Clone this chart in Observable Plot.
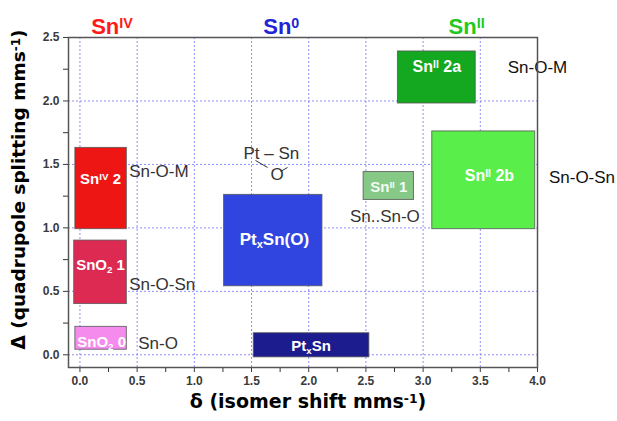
<!DOCTYPE html>
<html><head><meta charset="utf-8">
<script src="https://cdn.jsdelivr.net/npm/d3@7"></script>
<script src="https://cdn.jsdelivr.net/npm/@observablehq/plot@0.6"></script>
<style>
body{margin:0;background:#fff;}
#chart svg{font-family:"Liberation Sans",Arial,sans-serif;overflow:visible;}
</style>
</head><body><div id="chart"></div>
<script>
// ---- data ----
const boxLabels = ["Sn^{IV} 2","SnO_{2} 1","SnO_{2} 0","Pt_{x}Sn(O)","Pt_{x}Sn","Sn^{II} 1","Sn^{II} 2a","Sn^{II} 2b"];
const deltaMin  = [-0.04, -0.05, -0.04, 1.26, 1.52, 2.48, 2.78, 3.08];
const deltaMax  = [ 0.41,  0.41,  0.41, 2.12, 2.53, 2.92, 3.46, 3.98];
const splitMin  = [ 0.99,  0.40,  0.04, 0.54, -0.02, 1.22, 1.98, 0.99];
const splitMax  = [ 1.63,  0.90,  0.22, 1.26, 0.17, 1.44, 2.39, 1.76];
const labelDelta = [0.18, 0.18, 0.19, 1.70, 2.02, 2.70, 3.12, 3.58];
const labelSplit = [1.38, 0.71, 0.10, 0.91, 0.07, 1.32, 2.27, 1.41];

const noteText  = ["Sn-O-M", "Sn-O-Sn", "Sn-O", "Pt – Sn", "O", "Sn..Sn-O"];
const noteDelta = [0.43, 0.43, 0.51, 1.43, 1.665, 2.36];
const noteSplit = [1.44, 0.55, 0.09, 1.586, 1.42, 1.09];

const outerText  = ["Sn-O-M", "Sn-O-Sn"];
const outerDelta = [3.74, 4.10];
const outerSplit = [2.26, 1.40];

const bondDelta1 = [1.535, 1.754];
const bondSplit1 = [1.531, 1.444];
const bondDelta2 = [1.64, 1.815];
const bondSplit2 = [1.476, 1.476];

const stateText  = ["Sn^{IV}", "Sn^{0}", "Sn^{II}"];
const stateDelta = [0.28, 1.76, 3.38];
const stateSplit = [2.585, 2.585, 2.585];

const xTicks = [0, 0.5, 1, 1.5, 2, 2.5, 3, 3.5, 4];
const yTicks = [0, 0.5, 1, 1.5, 2, 2.5];
const xMinor = [0.25, 0.75, 1.25, 1.75, 2.25, 2.75, 3.25, 3.75];
const yMinor = [0.25, 0.75, 1.25, 1.75, 2.25];

const xLabel = "δ (isomer shift mms^{-1})";
const yLabel = "Δ (quadrupole splitting mms^{-1})";

// ---- tables ----
const boxes = boxLabels.map((label, i) => ({label, x1: deltaMin[i], x2: deltaMax[i], y1: splitMin[i], y2: splitMax[i], lx: labelDelta[i], ly: labelSplit[i]}));
const notes = noteText.map((t, i) => ({t, x: noteDelta[i], y: noteSplit[i]}));
const outer = outerText.map((t, i) => ({t, x: outerDelta[i], y: outerSplit[i]}));
const bonds = bondDelta1.map((d, i) => ({x1: d, y1: bondSplit1[i], x2: bondDelta2[i], y2: bondSplit2[i]}));
const states = stateText.map((t, i) => ({t, x: stateDelta[i], y: stateSplit[i]}));

const boxColors = ["#ee1515", "#dc2a52", "#f58ced", "#3045df", "#1c1c8e", "#86c986", "#13a81f", "#5aee4a"];
const stateColors = ["#ff1a1a", "#2323d8", "#22c922"];
const boxLabelSize = [15, 15, 15, 17, 15, 15, 16, 16];
const labelFont = "DejaVu Sans, Verdana, sans-serif";

const fmt = d3.format(".1f");

const chart = Plot.plot({
  width: 617,
  height: 421,
  marginLeft: 68,
  marginRight: 80,
  marginTop: 37,
  marginBottom: 54,
  x: {domain: [-0.1, 4.0]},
  y: {domain: [-0.1, 2.5]},
  color: {domain: boxLabels, range: boxColors},
  marks: [
    Plot.gridX(xTicks, {stroke: "#6a6af5", strokeOpacity: 0.75, strokeDasharray: "2,2", strokeWidth: 1}),
    Plot.gridY(yTicks, {stroke: "#6a6af5", strokeOpacity: 0.75, strokeDasharray: "2,2", strokeWidth: 1}),
    Plot.rect(boxes, {x1: "x1", x2: "x2", y1: "y1", y2: "y2", fill: "label", stroke: "#555", strokeWidth: 1, strokeOpacity: 0.8}),
    ...boxes.map((b, i) => Plot.text([b], {x: "lx", y: "ly", text: "label", fill: i === 5 ? "#f4fbf4" : "#fff", fontWeight: "bold", fontSize: boxLabelSize[i]})),
    Plot.text(notes, {x: "x", y: "y", text: "t", textAnchor: "start", fill: "#333", fontSize: 17}),
    Plot.text(outer, {x: "x", y: "y", text: "t", textAnchor: "start", fill: "#111", fontSize: 17}),
    Plot.link(bonds, {x1: "x1", y1: "y1", x2: "x2", y2: "y2", stroke: "#333", strokeWidth: 1}),
    Plot.text(states, {x: "x", y: "y", text: "t", fill: (d, i) => stateColors[i], fontWeight: "bold", fontSize: 22}),
    Plot.axisX(xMinor, {tickSize: 5, tickFormat: () => "", stroke: "#333"}),
    Plot.axisY(yMinor, {tickSize: 5, tickFormat: () => "", stroke: "#333"}),
    Plot.axisX(xTicks, {tickSize: 5, tickPadding: 4, tickFormat: fmt, fontSize: 12, fontWeight: "bold", color: "#3a3a3a", label: null}),
    Plot.axisY(yTicks, {tickSize: 5, tickPadding: 4, tickFormat: fmt, fontSize: 12, fontWeight: "bold", color: "#3a3a3a", label: null}),
    Plot.frame({stroke: "#555", strokeWidth: 1.5}),
    Plot.text([yLabel], {frameAnchor: "left", textAnchor: "middle", rotate: -90, dx: -49, dy: -13, fontWeight: "bold", fontSize: 18.5, fontFamily: labelFont, fill: "#000"}),
    Plot.text([xLabel], {frameAnchor: "bottom", dx: 5, dy: 40, fontWeight: "bold", fontSize: 19, fontFamily: labelFont, fill: "#000"})
  ]
});

// rich text: ^{...} superscript, _{...} subscript
const NS = "http://www.w3.org/2000/svg";
chart.querySelectorAll("text").forEach(t => {
  const s = t.textContent;
  if (!/[\^_]\{/.test(s)) return;
  while (t.firstChild) t.removeChild(t.firstChild);
  const re = /([\^_])\{([^}]*)\}/g;
  let last = 0, m;
  const add = (str, kind) => {
    if (!str) return;
    const ts = document.createElementNS(NS, "tspan");
    ts.textContent = str;
    if (kind) {
      ts.setAttribute("font-size", "65%");
      ts.setAttribute("baseline-shift", kind === "^" ? "45%" : "-25%");
    }
    t.appendChild(ts);
  };
  while ((m = re.exec(s))) {
    add(s.slice(last, m.index));
    add(m[2], m[1]);
    last = re.lastIndex;
  }
  add(s.slice(last));
});

document.getElementById("chart").appendChild(chart);
</script>
</body></html>
